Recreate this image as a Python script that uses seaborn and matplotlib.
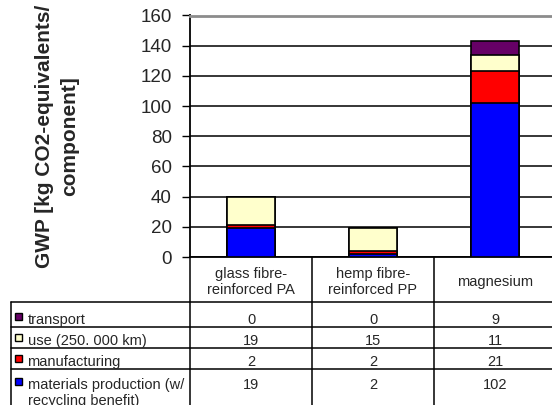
import numpy as np
import pandas as pd
import seaborn as sns
import matplotlib.pyplot as plt
import matplotlib.transforms as mtransforms
from matplotlib.patches import Rectangle

materials = ['glass fibre-\nreinforced PA', 'hemp fibre-\nreinforced PP', 'magnesium']
stages = ['transport', 'use (250. 000 km)', 'manufacturing',
          'materials production (w/\nrecycling benefit)']
transport = [0, 0, 9]
use = [19, 15, 11]
manufacturing = [2, 2, 21]
materials_production = [19, 2, 102]
stage_colors = ['#660066', '#FFFFCC', '#FF0000', '#0000FF']
yticks = [0, 20, 40, 60, 80, 100, 120, 140, 160]

df = pd.DataFrame({
    'material': materials,
    'transport': transport,
    'use': use,
    'manufacturing': manufacturing,
    'materials production': materials_production,
})
table_rows = [transport, use, manufacturing, materials_production]

sns.set_style('white')
plt.rcParams['font.family'] = ['Liberation Sans', 'DejaVu Sans']

fig = plt.figure(figsize=(5.52, 4.05), dpi=100)
W, H = 552, 405
ax = fig.add_axes([190 / W, (H - 257) / H, 366 / W, 241.5 / H])

# stacked bars: draw cumulative totals, tallest first
bottom_up = ['materials production', 'manufacturing', 'use', 'transport']
colors_bottom_up = stage_colors[::-1]
cum = df[bottom_up].cumsum(axis=1)
for col, color in reversed(list(zip(bottom_up, colors_bottom_up))):
    sns.barplot(x=df['material'], y=cum[col], color=color, saturation=1,
                width=0.4, edgecolor='black', linewidth=1.2, errorbar=None,
                ax=ax, zorder=3)

ax.set_xlim(-0.5, 2.5)
ax.set_ylim(0, 160)
ax.set_yticks(yticks)
ax.set_xticks([])
ax.set_xlabel('')
ax.set_ylabel('')
ax.tick_params(axis='y', left=True, direction='out', length=6, width=1,
               color='black', labelsize=13.5, pad=7)
ax.yaxis.grid(True, color='black', linewidth=1.1)
ax.get_ygridlines()[-1].set_visible(False)
ax.set_axisbelow(True)
for s in ['left', 'bottom']:
    ax.spines[s].set_color('black')
    ax.spines[s].set_linewidth(1.3)
ax.spines['top'].set_color('#8c8c8c')
ax.spines['top'].set_linewidth(2)
ax.spines['right'].set_visible(False)

fig.text(57 / W, 1 - 136 / H, 'GWP [kg CO2-equivalents/\ncomponent]',
         rotation=90, ha='center', va='center', multialignment='center',
         fontsize=15, fontweight='bold', linespacing=1.4)

# data table under the plot, in pixel coords (y down)
tb = fig.add_axes([0, 0, 1, 1], zorder=-1)
tb.set_xlim(0, W)
tb.set_ylim(H, 0)
tb.axis('off')
colx = mtransforms.blended_transform_factory(ax.transData, tb.transData)

lw = 1.1
for b in [-0.5, 0.5, 1.5, 2.5]:
    tb.plot([b, b], [257, H], color='black', lw=lw, transform=colx, clip_on=False)
for y in [302, 327, 348, 369]:
    tb.plot([11, W + 10], [y, y], color='black', lw=lw)
tb.plot([11, 11], [302, H], color='black', lw=lw)

for i, name in enumerate(materials):
    tb.text(i, 282, name, transform=colx, ha='center', va='center',
            fontsize=10.5, linespacing=1.2)

baselines = [324, 345, 366, 389]
for stage, color, vals, base in zip(stages, stage_colors, table_rows, baselines):
    tb.add_patch(Rectangle((15, base - 11.5), 7, 7.5, facecolor=color,
                           edgecolor='black', lw=1))
    for k, line in enumerate(stage.split('\n')):
        tb.text(27.5, base + k * 16, line, ha='left', va='baseline',
                fontsize=10.5)
    for i, v in enumerate(vals):
        tb.text(i, base, str(v), transform=colx, ha='center', va='baseline',
                fontsize=10.5)

fig.savefig('out.png', dpi=100)
